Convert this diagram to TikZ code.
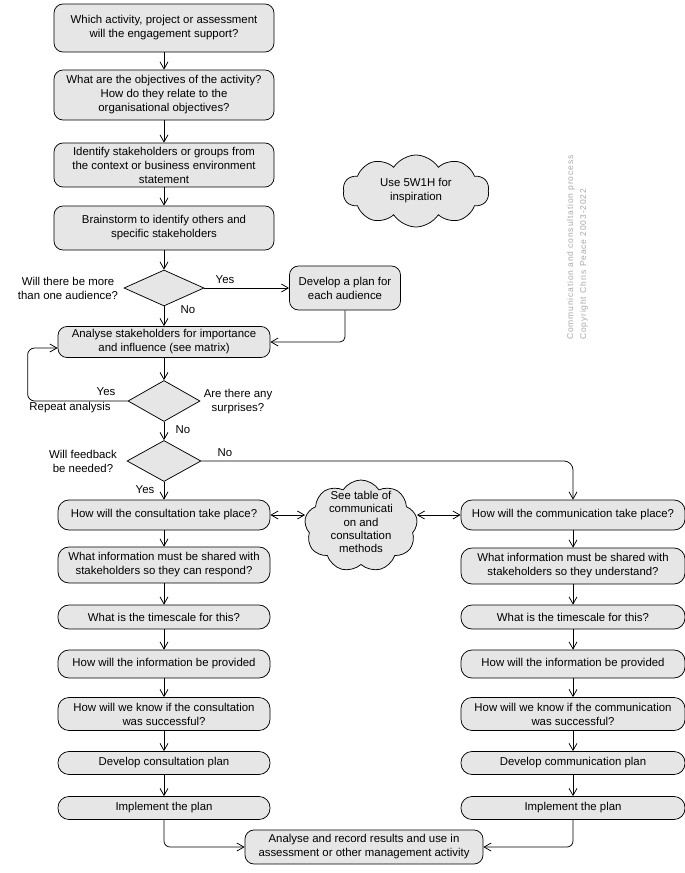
\documentclass[tikz,border=0pt]{standalone}
\usepackage{fontspec}
\setmainfont{Liberation Sans}
\newfontfamily\spacedfont{Liberation Sans}[LetterSpace=10]
\usetikzlibrary{shapes.geometric,shapes.symbols,arrows.meta}
\definecolor{boxfill}{HTML}{E6E6E6}
\definecolor{notegray}{HTML}{A8A8A8}
\begin{document}
\begin{tikzpicture}[x=1pt,y=-1pt,
  base/.style={font=\fontsize{11.4}{14}\selectfont, align=center, inner sep=0pt},
  box/.style={base, draw, fill=boxfill, rounded corners=9pt, line width=0.75pt},
  lbox/.style={box, minimum width=212pt, rounded corners=11pt},
  rbox/.style={box, minimum width=224pt, rounded corners=11pt},
  tbox/.style={box, minimum width=220pt},
  dia/.style={draw, fill=boxfill, diamond, inner sep=0pt, line width=0.75pt},
  cloudshape/.style={draw, fill=boxfill, cloud, cloud puffs=10, cloud puff arc=115, aspect=2, inner sep=0pt, line width=0.75pt},
  lbl/.style={base},
  arr/.style={line width=0.75pt, -{Straight Barb[length=7pt,width=8pt]}},
  darr/.style={line width=0.75pt, {Straight Barb[length=7pt,width=8pt]}-{Straight Barb[length=7pt,width=8pt]}},
  note/.style={font=\spacedfont\fontsize{8.5}{10}\selectfont, text=notegray, rotate=90, anchor=west, inner sep=0pt}
]
\useasboundingbox (0,0) rectangle (685,873);

% top column
\node[tbox, minimum height=48pt] (b1) at (164,28) {Which activity, project or assessment\\will the engagement support?};
\node[tbox, minimum height=50pt] (b2) at (164,95) {What are the objectives of the activity?\\How do they relate to the\\organisational objectives?};
\node[tbox, minimum height=44pt] (b3) at (164,165) {Identify stakeholders or groups from\\the context or business environment\\statement};
\node[tbox, minimum height=44pt] (b4) at (164,228) {Brainstorm to identify others and\\specific stakeholders};

\node[dia, minimum width=80pt, minimum height=36pt] (d1) at (164,288) {};
\node[box, minimum width=111pt, minimum height=44pt] (dev) at (345,288) {Develop a plan for\\each audience};
\node[box, minimum width=212pt, minimum height=31pt] (an) at (164,342) {Analyse stakeholders for importance\\and influence (see matrix)};
\node[dia, minimum width=72pt, minimum height=41pt] (d2) at (164,401) {};
\node[dia, minimum width=74pt, minimum height=41pt] (d3) at (164,461) {};

% labels
\node[lbl] (q1) at (68,288) {Will there be more\\than one audience?};
\node[lbl] (y1) at (225,280) {Yes};
\node[lbl] (n1) at (188,310) {No};
\node[lbl] (y2) at (106,392) {Yes};
\node[lbl] (rep) at (70,408) {Repeat analysis};
\node[lbl] (q2) at (238,402) {Are there any\\surprises?};
\node[lbl] (n2) at (183,430) {No};
\node[lbl] (q3) at (83,461) {Will feedback\\be needed?};
\node[lbl] (n3) at (225,453) {No};
\node[lbl] (y3) at (145,490) {Yes};

% clouds
\node[cloudshape, minimum width=146pt, minimum height=72pt] (c1) at (416,191) {};
\node[base] (c1t) at (c1.center) {Use 5W1H for\\inspiration};
\node[cloudshape, cloud puffs=9, aspect=1.2, minimum width=113pt, minimum height=92pt] (c2) at (361,526) {};
\node[base, font=\fontsize{11.4}{13.3}\selectfont] (c2t) at (361,522) {See table of\\communicati\\on and\\consultation\\methods};

% left column
\node[lbox, minimum height=30pt] (L1) at (164,515) {How will the consultation take place?};
\node[lbox, minimum height=36pt] (L2) at (164,565) {What information must be shared with\\stakeholders so they can respond?};
\node[lbox, minimum height=24pt] (L3) at (164,617) {What is the timescale for this?};
\node[lbox, minimum height=28pt] (L4) at (164,664) {How will the information be provided};
\node[lbox, minimum height=33pt] (L5) at (164,714) {How will we know if the consultation\\was successful?};
\node[lbox, minimum height=23pt] (L6) at (164,763) {Develop consultation plan};
\node[lbox, minimum height=23pt] (L7) at (164,808) {Implement the plan};

% right column
\node[rbox, minimum height=30pt] (R1) at (573,515) {How will the communication take place?};
\node[rbox, minimum height=36pt] (R2) at (573,566) {What information must be shared with\\stakeholders so they understand?};
\node[rbox, minimum height=24pt] (R3) at (573,617) {What is the timescale for this?};
\node[rbox, minimum height=28pt] (R4) at (573,664) {How will the information be provided};
\node[rbox, minimum height=33pt] (R5) at (573,714) {How will we know if the communication\\was successful?};
\node[rbox, minimum height=23pt] (R6) at (573,763) {Develop communication plan};
\node[rbox, minimum height=23pt] (R7) at (573,808) {Implement the plan};

\node[box, minimum width=238pt, minimum height=34pt] (fin) at (364,847) {Analyse and record results and use in\\assessment or other management activity};

% note
\node[note] (nt1) at (571,340) {Communication and consultation process};
\node[note] (nt2) at (584,340) {Copyright Chris Peace 2003-2022};

% connectors
\draw[arr] (b1) -- (b2);
\draw[arr] (b2) -- (b3);
\draw[arr] (b3) -- (b4);
\draw[arr] (b4) -- (d1);
\draw[arr] (d1) -- (dev);
\draw[arr, rounded corners=5pt] (dev.south) |- (an.east);
\draw[arr] (d1) -- (an);
\draw[arr] (an) -- (d2);
\draw[arr, rounded corners=7pt] (d2.west) -- ++(-100,0) |- ([yshift=-6pt]an.west);
\draw[arr] (d2) -- (d3);
\draw[arr, rounded corners=9pt] (d3.east) -| (R1.north);
\draw[arr] (d3) -- (L1);
\draw[arr] (L1) -- (L2);
\draw[arr] (L2) -- (L3);
\draw[arr] (L3) -- (L4);
\draw[arr] (L4) -- (L5);
\draw[arr] (L5) -- (L6);
\draw[arr] (L6) -- (L7);
\draw[arr] (R1) -- (R2);
\draw[arr] (R2) -- (R3);
\draw[arr] (R3) -- (R4);
\draw[arr] (R4) -- (R5);
\draw[arr] (R5) -- (R6);
\draw[arr] (R6) -- (R7);
\draw[darr] (L1.east) -- (c2.west |- L1.east);
\draw[darr] (c2.east |- R1.west) -- (R1.west);
\draw[arr, rounded corners=6pt] (L7.south) |- (fin.west);
\draw[arr, rounded corners=6pt] (R7.south) |- (fin.east);
\end{tikzpicture}
\end{document}
